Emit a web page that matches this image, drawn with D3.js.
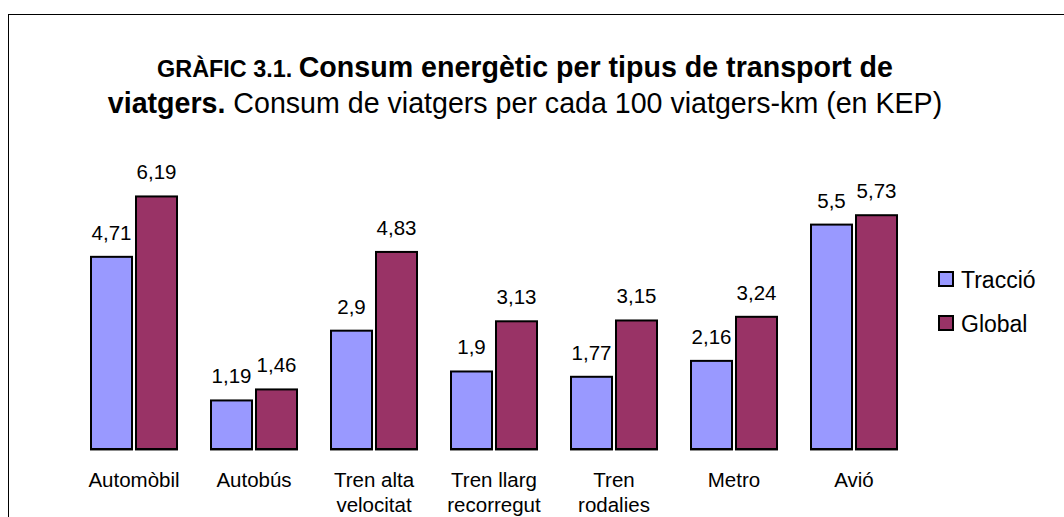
<!DOCTYPE html>
<html>
<head>
<meta charset="utf-8">
<script src="https://cdn.jsdelivr.net/npm/d3@7"></script>
<style>
  body { margin: 0; background: #fff; }
  svg text { font-family: "Liberation Sans", Arial, sans-serif; fill: #000; }
</style>
</head>
<body>
<svg id="chart" width="1064" height="517"></svg>
<script>
// categories (multi-line labels split on \n)
const categories = ["Automòbil", "Autobús", "Tren alta\nvelocitat", "Tren llarg\nrecorregut", "Tren\nrodalies", "Metro", "Avió"];
const seriesNames = ["Tracció", "Global"];
const traccio = [4.71, 1.19, 2.9, 1.9, 1.77, 2.16, 5.5];
const global = [6.19, 1.46, 4.83, 3.13, 3.15, 3.24, 5.73];
const colors = ["#9999FF", "#993366"];

const svg = d3.select("#chart");

// outer frame (runs off the right/bottom of the picture)
svg.append("rect")
    .attr("x", 8.5).attr("y", 14.5)
    .attr("width", 1200).attr("height", 700)
    .attr("fill", "#fff").attr("stroke", "#000").attr("stroke-width", 1);

// title
const cx = 525;
const title = svg.append("text").attr("text-anchor", "middle").attr("x", cx);
title.append("tspan").attr("x", cx).attr("y", 77)
    .attr("font-weight", "bold").attr("font-size", 23.4).text("GRÀFIC 3.1. ");
title.append("tspan")
    .attr("font-weight", "bold").attr("font-size", 28.6).text("Consum energètic per tipus de transport de");
title.append("tspan").attr("x", cx).attr("y", 113)
    .attr("font-weight", "bold").attr("font-size", 28.6).text("viatgers.");
title.append("tspan")
    .attr("font-size", 28.6).text(" Consum de viatgers per cada 100 viatgers-km (en KEP)");

// scales
const x0 = d3.scaleBand()
    .domain(categories)
    .range([74, 914])
    .paddingInner(32 / 120)
    .paddingOuter(16 / 120);

const x1 = d3.scaleBand()
    .domain(seriesNames)
    .range([0, x0.bandwidth()])
    .paddingInner(2 / 45);

const y = d3.scaleLinear().domain([0, 7]).range([449, 449 - 7 * 40.8]);

const rows = categories.map((c, i) => ({
    cat: c,
    values: [
        { name: seriesNames[0], v: traccio[i] },
        { name: seriesNames[1], v: global[i] }
    ]
}));

const groups = svg.selectAll("g.grp")
    .data(rows)
    .enter()
    .append("g")
    .attr("class", "grp")
    .attr("transform", d => `translate(${x0(d.cat)},0)`);

// grey base under each bar
groups.selectAll("line.base")
    .data(d => d.values)
    .enter()
    .append("line")
    .attr("x1", d => x1(d.name))
    .attr("x2", d => x1(d.name) + x1.bandwidth())
    .attr("y1", y(0) + 1).attr("y2", y(0) + 1)
    .attr("stroke", "#8c8c8c").attr("stroke-width", 2);

groups.selectAll("rect")
    .data(d => d.values)
    .enter()
    .append("rect")
    .attr("x", d => x1(d.name) + 1)
    .attr("y", d => y(d.v))
    .attr("width", x1.bandwidth() - 2)
    .attr("height", d => y(0) - y(d.v))
    .attr("fill", (d, i) => colors[i])
    .attr("stroke", "#000").attr("stroke-width", 2);

// value labels
groups.selectAll("text.val")
    .data(d => d.values)
    .enter()
    .append("text")
    .attr("class", "val")
    .attr("x", d => x1(d.name) + x1.bandwidth() / 2)
    .attr("y", d => y(d.v) - 17)
    .attr("text-anchor", "middle")
    .attr("font-size", 20.5)
    .text(d => String(d.v).replace(".", ","));

// category labels
const catLabels = svg.selectAll("text.cat")
    .data(categories)
    .enter()
    .append("text")
    .attr("class", "cat")
    .attr("text-anchor", "middle")
    .attr("font-size", 20.5);

catLabels.selectAll("tspan")
    .data(d => d.split("\n").map(t => ({ t: t, c: d })))
    .enter()
    .append("tspan")
    .attr("x", d => x0(d.c) + x0.bandwidth() / 2)
    .attr("y", (d, i) => 487 + i * 25)
    .text(d => d.t);

// legend
const legend = svg.selectAll("g.leg")
    .data(seriesNames)
    .enter()
    .append("g")
    .attr("class", "leg")
    .attr("transform", (d, i) => `translate(939,${272 + i * 44})`);

legend.append("rect")
    .attr("x", 0).attr("y", 0)
    .attr("width", 14).attr("height", 14)
    .attr("fill", (d, i) => colors[i])
    .attr("stroke", "#000").attr("stroke-width", 2);

legend.append("text")
    .attr("x", 22).attr("y", 15.5)
    .attr("font-size", 23)
    .text(d => d);
</script>
</body>
</html>
